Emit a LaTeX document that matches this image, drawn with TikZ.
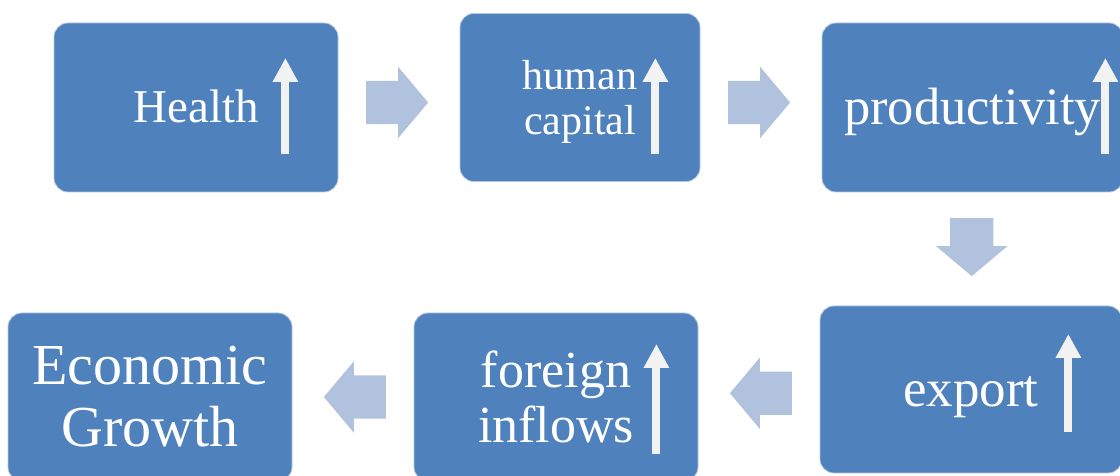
\documentclass[tikz,border=0pt]{standalone}
\usepackage{fontspec}
\setmainfont{Liberation Serif}
\usepackage{tikz}
\usetikzlibrary{calc, arrows.meta, shapes.arrows}
\definecolor{boxblue}{RGB}{79, 129, 189}
\definecolor{flowblue}{RGB}{177, 194, 222}
\definecolor{upwhite}{RGB}{242, 242, 242}

\begin{document}
\begin{tikzpicture}[
  x=1pt, y=1pt,
  flowbox/.style={draw=boxblue!45, fill=boxblue, line width=0.8pt, rounded corners=14pt, text=white, align=center, inner sep=0pt},
  flowarrow/.style={single arrow, fill=flowblue, draw=none, inner xsep=0pt, inner ysep=21.5pt, minimum height=62pt, minimum width=71pt, single arrow head extend=14pt, single arrow tip angle=100},
  uparrow/.style={draw=upwhite, line width=8pt, -{Triangle[width=24pt, length=24pt]}}
]
\clip (0,0) rectangle (1120,476);

% boxes
\node[flowbox, minimum width=284pt, minimum height=169pt, font=\fontsize{47}{50}\selectfont, text height=31pt, text depth=0pt] (health) at (196,368.5) {Health};
\node[flowbox, minimum width=240pt, minimum height=168pt, font=\fontsize{42}{45}\selectfont, text depth=0pt] (capital) at (580,378.5) {human\\capital};
\node[flowbox, minimum width=301pt, minimum height=169pt, font=\fontsize{52.5}{55}\selectfont, text height=35pt, text depth=0pt] (prod) at (972.5,368.5) {productivity};
\node[flowbox, minimum width=302pt, minimum height=167pt, font=\fontsize{53}{55}\selectfont, text height=35pt, text depth=0pt] (export) at (971,86.5) {export};
\node[flowbox, minimum width=284pt, minimum height=168pt, font=\fontsize{52}{55}\selectfont] (inflows) at (556,79) {foreign\\inflows};
\node[flowbox, minimum width=284pt, minimum height=168pt, font=\fontsize{58}{62}\selectfont] (growth) at (150,79) {Economic\\Growth};

% rising arrows
\draw[uparrow] ($(health.east)+(-53,-46.5)$) -- ++(0,96);
\draw[uparrow] ($(capital.east)+(-45,-56.5)$) -- ++(0,96);
\draw[uparrow] ($(prod.east)+(-18,-46.5)$) -- ++(0,96);
\draw[uparrow] ($(export.east)+(-54,-42.5)$) -- ++(0,98);
\draw[uparrow] ($(inflows.east)+(-42,-57)$) -- ++(0,110);

% flow between boxes
\node[flowarrow] (f1) at ($(health.east)!0.5!(capital.west)+(-11,0)$) {};
\node[flowarrow] (f2) at ($(capital.east)!0.5!(prod.west)+(-11,0)$) {};
\node[flowarrow, rotate=270, minimum height=58pt] (f3) at ($(prod.south)!0.5!(export.north)+(0,11)$) {};
\node[flowarrow, rotate=180] (f4) at ($(export.west)!0.5!(inflows.east)+(11,0)$) {};
\node[flowarrow, rotate=180] (f5) at ($(inflows.west)!0.5!(growth.east)+(11,0)$) {};
\end{tikzpicture}
\end{document}
